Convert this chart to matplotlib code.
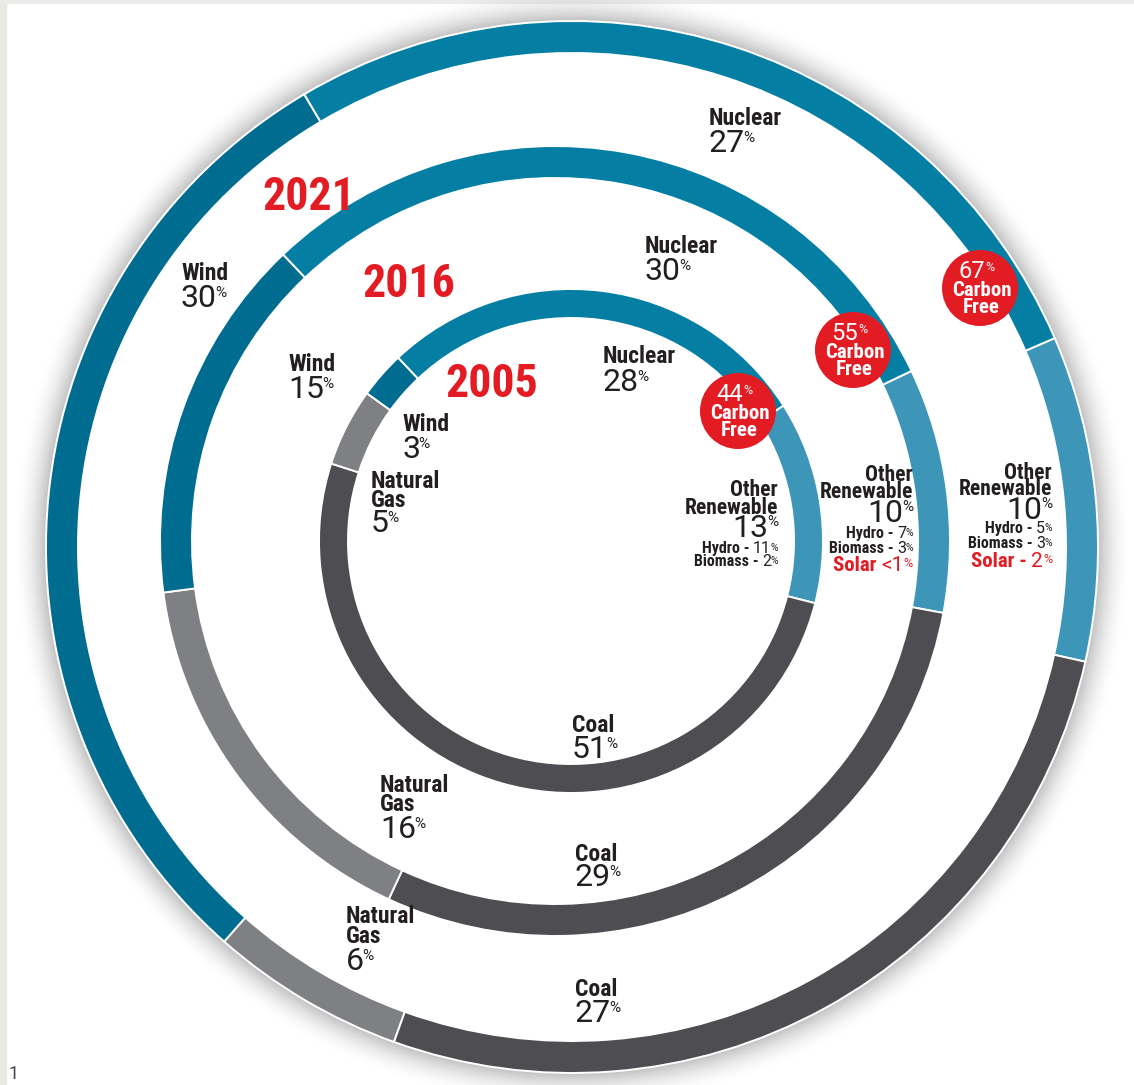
# Electricity generation mix - concentric donut rings (2005 / 2016 / 2021)
import matplotlib
matplotlib.use('Agg')
import matplotlib.pyplot as plt
from matplotlib import font_manager
from matplotlib.patches import Wedge, Circle

# ---- data -------------------------------------------------------------
years = ['2005', '2016', '2021']
# clockwise order, starting at the nuclear / renewable boundary
fuels = ['Other Renewable', 'Coal', 'Natural Gas', 'Wind', 'Nuclear']
share_2005 = [13, 51, 5, 3, 28]
share_2016 = [10, 29, 16, 15, 30]
share_2021 = [10, 27, 6, 30, 27]
carbon_free = [44, 55, 67]
hydro = [11, 7, 5]
biomass = [2, 3, 3]
solar = [None, '<1', '2']

# ---- fonts ------------------------------------------------------------
names = {f.name for f in font_manager.fontManager.ttflist}


def pick(*cands):
    for c in cands:
        if c in names:
            return c
    return 'DejaVu Sans'


COND = pick('Liberation Sans Narrow', 'Roboto Condensed', 'Liberation Sans', 'DejaVu Sans')
LIGHT = pick('Roboto', 'Lato', 'Open Sans', 'DejaVu Sans')
NUMW = 'normal'

# ---- colours ----------------------------------------------------------
colors = ['#3d96b8', '#4e4e52', '#7f8083', '#006c8f', '#047fa3']
RED = '#e31b23'
INK = '#231f20'

W, H = 1134, 1085
fig = plt.figure(figsize=(W / 100, H / 100), dpi=100)
ax = fig.add_axes([0, 0, 1, 1])

# ring geometry (pixel space): center, outer radius, thickness, start angle
rings = [
    (share_2021, (572, 547), 526, 32, 23.4),
    (share_2016, (555, 541), 395, 32, 25.5),
    (share_2005, (571, 541), 252, 29, 32.5),
]

for data, c, R, w, start in rings:
    # soft shadow outside of each ring
    n = 26
    for i in range(n):
        a = 0.24 * (1 - i / n) ** 2
        ax.add_patch(Wedge(c, R + (i + 1) * 1.3, 0, 360, width=1.3,
                           facecolor='black', edgecolor='none', alpha=a, zorder=1))
    ax.add_patch(Circle(c, R - w, facecolor='white', edgecolor='none', zorder=1.5))
    # y axis is flipped below, so mirror the angle and go counterclockwise
    wedges, _ = ax.pie(data, colors=colors, center=c, radius=R, startangle=-start,
                       counterclock=True, frame=True,
                       wedgeprops=dict(width=w, edgecolor='white', linewidth=1.4))
    for wd in wedges:
        wd.set_zorder(2)

ax.set_xlim(0, W)
ax.set_ylim(H, 0)
ax.set_aspect('equal')
ax.axis('off')

# page edge strips
ax.add_patch(plt.Rectangle((0, 0), 6, H, color='#e8e8e4', zorder=0))
ax.add_patch(plt.Rectangle((0, 0), W, 3, color='#ececea', zorder=0))
ax.text(8, 1083, '1', fontsize=13, family=LIGHT, color='#444444', va='bottom')


def bold(x, y, s, size=17, color=INK, ha='left'):
    return ax.text(x, y, s, fontsize=size, family=COND, fontweight='bold',
                   color=color, ha=ha, va='baseline', zorder=5)


def pct_left(x, y, num, size=23, psize=11, color=INK):
    t = ax.text(x, y, num, fontsize=size, family=LIGHT, fontweight=NUMW,
                color=color, ha='left', va='baseline', zorder=5)
    ax.annotate('%', xy=(1, 0.92), xycoords=t, xytext=(-1.5, 0), textcoords='offset points',
                fontsize=psize, family=LIGHT, color=color, ha='left', va='top', zorder=5)
    return t


def pct_right(x, y, num, size=23, psize=11, color=INK):
    p = ax.text(x, y - size * 0.95, '%', fontsize=psize, family=LIGHT,
                color=color, ha='right', va='top', zorder=5)
    ax.text(x - 10, y, num, fontsize=size, family=LIGHT, fontweight=NUMW,
            color=color, ha='right', va='baseline', zorder=5)
    return p


def small_line(xr, y, label, num, color=INK, size=11.5):
    ax.text(xr, y - 10, '%', fontsize=7.5, family=LIGHT, color=color,
            ha='right', va='top', zorder=5)
    n = ax.text(xr - 7, y, num, fontsize=size, family=LIGHT, color=color,
                ha='right', va='baseline', zorder=5)
    ax.annotate(label, xy=(0, 0), xycoords=n, fontsize=size, family=COND,
                fontweight='bold', color=color, ha='right', va='bottom', zorder=5)


# ---- year titles --------------------------------------------------------
for yr, (x, y) in zip(years, [(445, 397), (362, 297), (262, 210)]):
    ax.text(x, y, yr, fontsize=33, family=COND, fontweight='bold', color=RED,
            va='baseline', zorder=5)

# ---- left-aligned labels ----------------------------------------------
# (label lines, x, baselines, value)
left_labels = [
    (['Nuclear'], 709, [125], 152, share_2021[4]),
    (['Wind'], 181, [280], 307, share_2021[3]),
    (['Natural', 'Gas'], 346, [923, 943], 970, share_2021[2]),
    (['Coal'], 575, [996], 1022, share_2021[1]),
    (['Nuclear'], 645, [253], 280, share_2016[4]),
    (['Wind'], 288, [371], 398, share_2016[3]),
    (['Natural', 'Gas'], 380, [792, 811], 838, share_2016[2]),
    (['Coal'], 575, [861], 886, share_2016[1]),
    (['Nuclear'], 603, [363], 391, share_2005[4]),
    (['Wind'], 402, [431], 458, share_2005[3]),
    (['Natural', 'Gas'], 371, [488, 507], 532, share_2005[2]),
    (['Coal'], 572, [732], 758, share_2005[1]),
]
for lines, x, ys, yv, v in left_labels:
    for s, y in zip(lines, ys):
        bold(x, y, s)
    pct_left(x, yv, str(v))

# ---- other renewable blocks (right-aligned) -----------------------------
other_pos = [
    (778, [496, 514], 537, [553, 566], None),
    (913, [481, 498], 522, [538, 553], 571),
    (1052, [479, 495], 519, [533, 548], 567),
]
for i, (xr, ys, yv, ysub, ysol) in enumerate(other_pos):
    bold(xr, ys[0], 'Other', size=15.5, ha='right')
    bold(xr, ys[1], 'Renewable', size=15.5, ha='right')
    pct_right(xr, yv, str([share_2005, share_2016, share_2021][i][0]))
    small_line(xr, ysub[0], 'Hydro - ', str(hydro[i]))
    small_line(xr, ysub[1], 'Biomass - ', str(biomass[i]))
    if solar[i] is not None:
        sep = 'Solar ' if solar[i].startswith('<') else 'Solar - '
        ax.text(xr, ysol - 14, '%', fontsize=9, family=LIGHT, color=RED,
                ha='right', va='top', zorder=5)
        n = ax.text(xr - 9, ysol, solar[i], fontsize=15, family=LIGHT,
                    color=RED, ha='right', va='baseline', zorder=5)
        ax.annotate(sep, xy=(0, 0), xycoords=n, fontsize=15, family=COND,
                    fontweight='bold', color=RED, ha='right', va='bottom', zorder=5)

# ---- carbon free badges ------------------------------------------------
badges = [(738, 411), (853, 350), (980, 288)]
for (cx, cy), cf in zip(badges, carbon_free):
    ax.add_patch(Circle((cx, cy), 38, facecolor=RED, edgecolor='none', zorder=6))
    t = ax.text(cx - 8, cy - 10, str(cf), fontsize=17, family=LIGHT, fontweight=NUMW,
                color='white', ha='center', va='baseline', zorder=7)
    ax.annotate('%', xy=(1, 0.95), xycoords=t, fontsize=9, family=LIGHT,
                color='white', ha='left', va='top', zorder=7)
    ax.text(cx + 2, cy + 8, 'Carbon', fontsize=15, family=COND, fontweight='bold',
            color='white', ha='center', va='baseline', zorder=7)
    ax.text(cx + 1, cy + 25, 'Free', fontsize=15, family=COND, fontweight='bold',
            color='white', ha='center', va='baseline', zorder=7)

fig.savefig('out.png', dpi=100)
